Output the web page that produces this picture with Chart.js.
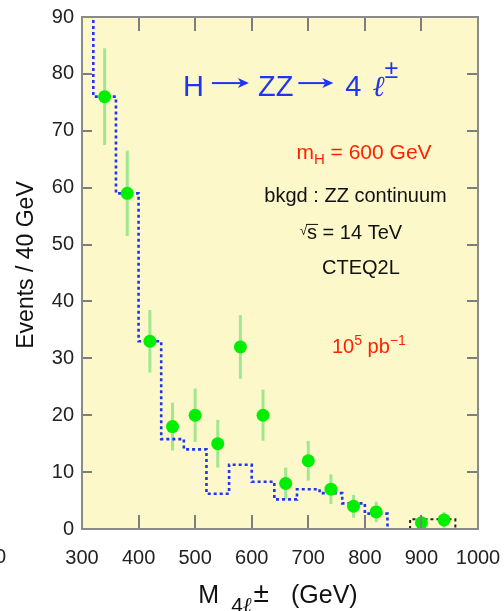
<!DOCTYPE html>
<html>
<head>
<meta charset="utf-8">
<script src="https://cdn.jsdelivr.net/npm/chart.js@4"></script>
<style>
  html, body { margin: 0; padding: 0; background: #ffffff; }
  #wrap { width: 504px; height: 611px; }
</style>
</head>
<body>
<div id="wrap"><canvas id="c" width="504" height="611"></canvas></div>
<script>
// Four-lepton invariant mass, events per 40 GeV bin (signal + background sample)
const massCenters = [340, 380, 420, 460, 500, 540, 580, 620, 660, 700, 740, 780, 820, 900, 940];
const events      = [76, 59, 33, 18, 20, 15, 32, 20, 8, 12, 7, 4, 3, 1.1, 1.6];
const eventErrors = [8.5, 7.5, 5.5, 4.2, 4.7, 4.2, 5.6, 4.5, 2.8, 3.5, 2.6, 2.0, 1.8, 1.0, 1.4];

// ZZ continuum background, step histogram (bin edges and contents)
const bkgEdges  = [320, 360, 400, 440, 480, 520, 560, 600, 640, 680, 720, 760, 800, 840];
const bkgValues = [76, 59, 33, 15.8, 14, 6.2, 11.3, 8.3, 5.2, 7.0, 6.3, 4.5, 2.7];
const bkgEntry  = 100;   // histogram enters from above the frame

// high-mass tail bin of the background
const tailEdges  = [880, 960];
const tailValues = [1.7];

const xTicks = [300, 400, 500, 600, 700, 800, 900, 1000];
const yTicks = [0, 10, 20, 30, 40, 50, 60, 70, 80, 90];

const FONT = "'Liberation Sans', Arial, Helvetica, sans-serif";
const BLUE = '#1f35f2';
const RED = '#ff2200';

// step outline from edges/contents
function stepPoints(edges, values, entry) {
  const pts = [];
  pts.push({ x: edges[0], y: entry });
  for (let i = 0; i < values.length; i++) {
    pts.push({ x: edges[i], y: values[i] });
    pts.push({ x: edges[i + 1], y: values[i] });
  }
  pts.push({ x: edges[edges.length - 1], y: 0 });
  return pts;
}

const pointData = massCenters.map((m, i) => ({ x: m, y: events[i] }));

// draws a row of text runs
function drawRuns(ctx, runs, x, y, align) {
  const widths = runs.map(r => {
    if (r.gap !== undefined) return r.gap;
    if (r.arrow !== undefined) return r.arrow;
    ctx.font = (r.italic ? 'italic ' : '') + r.size + 'px ' + (r.family || FONT);
    return ctx.measureText(r.text).width;
  });
  const total = widths.reduce((a, b) => a + b, 0);
  let cx = align === 'center' ? x - total / 2 : x;
  ctx.textAlign = 'left';
  ctx.textBaseline = 'alphabetic';
  runs.forEach((r, i) => {
    const w = widths[i];
    if (r.arrow !== undefined) {
      const ay = y - r.lift;
      ctx.strokeStyle = r.color;
      ctx.fillStyle = r.color;
      ctx.lineWidth = 2;
      ctx.beginPath();
      ctx.moveTo(cx, ay);
      ctx.lineTo(cx + w - 8, ay);
      ctx.stroke();
      ctx.beginPath();
      ctx.moveTo(cx + w, ay);
      ctx.lineTo(cx + w - 11, ay - 5);
      ctx.lineTo(cx + w - 8, ay);
      ctx.lineTo(cx + w - 11, ay + 5);
      ctx.closePath();
      ctx.fill();
    } else if (r.text !== undefined) {
      ctx.font = (r.italic ? 'italic ' : '') + r.size + 'px ' + (r.family || FONT);
      ctx.fillStyle = r.color;
      ctx.fillText(r.text, cx, y + (r.dy || 0));
      if (r.overline) {
        ctx.strokeStyle = r.color;
        ctx.lineWidth = 1;
        ctx.beginPath();
        ctx.moveTo(cx - 1, y - r.overline);
        ctx.lineTo(cx + w + 1, y - r.overline);
        ctx.stroke();
      }
    }
    cx += w;
  });
}

function noOverflow(s) {
  s.paddingLeft = 0; s.paddingRight = 0; s.paddingTop = 0; s.paddingBottom = 0;
}

const framePlugin = {
  id: 'frame',
  beforeDraw(chart) {
    const { ctx, chartArea: a } = chart;
    ctx.save();
    ctx.fillStyle = '#fcf8c9';
    ctx.fillRect(a.left, a.top, a.right - a.left, a.bottom - a.top);
    ctx.restore();
  },
  beforeDatasetsDraw(chart) {
    const { ctx } = chart;
    const xs = chart.scales.x, ys = chart.scales.y;
    // statistical error bars
    ctx.save();
    ctx.strokeStyle = '#9fe890';
    ctx.lineWidth = 3;
    massCenters.forEach((m, i) => {
      const px = xs.getPixelForValue(m);
      ctx.beginPath();
      ctx.moveTo(px, ys.getPixelForValue(Math.max(0, events[i] - eventErrors[i])));
      ctx.lineTo(px, ys.getPixelForValue(events[i] + eventErrors[i]));
      ctx.stroke();
    });
    ctx.restore();

    // annotations inside the frame
    ctx.save();
    const X = v => xs.getPixelForValue(v);
    const Y = v => ys.getPixelForValue(v);
    drawRuns(ctx, [
      { text: 'H', size: 29, color: BLUE },
      { gap: 8 },
      { arrow: 37, lift: 13, color: BLUE },
      { gap: 9 },
      { text: 'ZZ', size: 29, color: BLUE },
      { gap: 5 },
      { arrow: 35, lift: 13, color: BLUE },
      { gap: 12 },
      { text: '4', size: 29, color: BLUE },
      { gap: 11 },
      { text: 'ℓ', size: 29, color: BLUE, italic: true, family: "'DejaVu Serif', serif" },
      { text: '±', size: 25, color: BLUE, dy: -18 }
    ], X(478.5), Y(76.1), 'left');

    drawRuns(ctx, [
      { text: 'm', size: 21, color: RED },
      { text: 'H', size: 15, color: RED, dy: 5 },
      { text: ' = 600 GeV', size: 21, color: RED }
    ], X(798.5), Y(65.1), 'center');

    drawRuns(ctx, [
      { text: 'bkgd : ZZ continuum', size: 20, color: '#111' }
    ], X(783.5), Y(57.5), 'center');

    drawRuns(ctx, [
      { text: '√', size: 13, color: '#111', dy: -4 },
      { text: 's', size: 20, color: '#111', overline: 15 },
      { text: ' = 14 TeV', size: 20, color: '#111' }
    ], X(775.5), Y(50.9), 'center');

    drawRuns(ctx, [
      { text: 'CTEQ2L', size: 20, color: '#111' }
    ], X(793), Y(44.9), 'center');

    drawRuns(ctx, [
      { text: '10', size: 20, color: RED },
      { text: '5', size: 14, color: RED, dy: -8 },
      { text: ' pb', size: 20, color: RED },
      { text: '−1', size: 14, color: RED, dy: -8 }
    ], X(807), Y(31), 'center');
    ctx.restore();
  },
  afterDatasetsDraw(chart) {
    const { ctx, chartArea: a } = chart;
    const xs = chart.scales.x, ys = chart.scales.y;
    ctx.save();
    // inward tick marks on all four sides
    ctx.strokeStyle = '#7d7d7d';
    ctx.lineWidth = 2;
    ctx.beginPath();
    xTicks.forEach(v => {
      if (v === xs.min || v === xs.max) return;
      const px = Math.round(xs.getPixelForValue(v));
      ctx.moveTo(px, a.bottom); ctx.lineTo(px, a.bottom - 14);
      ctx.moveTo(px, a.top); ctx.lineTo(px, a.top + 14);
    });
    yTicks.forEach(v => {
      if (v === ys.min || v === ys.max) return;
      const py = Math.round(ys.getPixelForValue(v));
      ctx.moveTo(a.left, py); ctx.lineTo(a.left + 10, py);
      ctx.moveTo(a.right, py); ctx.lineTo(a.right - 11, py);
    });
    ctx.stroke();
    // frame
    ctx.strokeStyle = '#8a8a8a';
    ctx.lineWidth = 2;
    ctx.strokeRect(a.left, a.top, a.right - a.left, a.bottom - a.top);
    ctx.restore();
  },
  afterDraw(chart) {
    const { ctx, chartArea: a } = chart;
    ctx.save();
    // y axis title
    ctx.translate(33, (a.top + a.bottom) / 2 - 8);
    ctx.rotate(-Math.PI / 2);
    ctx.font = '23px ' + FONT;
    ctx.fillStyle = '#111';
    ctx.textAlign = 'center';
    ctx.textBaseline = 'alphabetic';
    ctx.fillText('Events / 40 GeV', 0, 0);
    ctx.restore();

    // x axis title
    ctx.save();
    drawRuns(ctx, [
      { text: 'M', size: 25, color: '#111' },
      { gap: 12 },
      { text: '4', size: 21, color: '#111', dy: 9 },
      { text: 'ℓ', size: 21, color: '#111', dy: 9, italic: true, family: "'DejaVu Serif', serif" },
      { gap: 2 },
      { text: '±', size: 28, color: '#111', dy: -1 },
      { gap: 22 },
      { text: '(GeV)', size: 25, color: '#111' }
    ], (a.left + a.right) / 2 - 2, 603, 'center');
    ctx.restore();

    // leftmost axis number, mostly outside the canvas
    ctx.save();
    ctx.font = '20px ' + FONT;
    ctx.fillStyle = '#222';
    ctx.textAlign = 'right';
    ctx.textBaseline = 'middle';
    ctx.fillText('200', 6, 557);
    ctx.restore();
  }
};

new Chart(document.getElementById('c'), {
  type: 'scatter',
  data: {
    datasets: [
      {
        label: 'data',
        data: pointData,
        pointRadius: 6.5,
        pointHoverRadius: 6.5,
        pointBackgroundColor: '#00ee00',
        pointBorderWidth: 0,
        showLine: false,
        order: 0
      },
      {
        label: 'ZZ continuum',
        type: 'line',
        data: stepPoints(bkgEdges, bkgValues, bkgEntry),
        borderColor: BLUE,
        borderWidth: 2.6,
        borderDash: [3, 3],
        pointRadius: 0,
        tension: 0,
        fill: false,
        clip: 0,
        order: 1
      },
      {
        label: 'tail',
        type: 'line',
        data: [{ x: tailEdges[0], y: 0 }].concat(stepPoints(tailEdges, tailValues, 0).slice(1)),
        borderColor: '#222222',
        borderWidth: 2,
        borderDash: [3, 3],
        pointRadius: 0,
        tension: 0,
        fill: false,
        clip: 0,
        order: 2
      }
    ]
  },
  options: {
    responsive: false,
    animation: false,
    devicePixelRatio: 1,
    layout: { padding: { left: 0, top: 17, right: 26, bottom: 0 } },
    plugins: { legend: { display: false }, tooltip: { enabled: false } },
    scales: {
      x: {
        type: 'linear',
        min: 300,
        max: 1000,
        afterBuildTicks: s => { s.ticks = xTicks.map(v => ({ value: v })); },
        afterFit: s => { s.height = 82; noOverflow(s); },
        grid: { display: false, drawTicks: false },
        border: { display: false },
        ticks: {
          font: { family: FONT, size: 20 }, color: '#222', padding: 17,
          maxRotation: 0, autoSkip: false, callback: v => String(v)
        }
      },
      y: {
        type: 'linear',
        min: 0,
        max: 90,
        afterBuildTicks: s => { s.ticks = yTicks.map(v => ({ value: v })); },
        afterFit: s => { s.width = 82; noOverflow(s); },
        grid: { display: false, drawTicks: false },
        border: { display: false },
        ticks: {
          font: { family: FONT, size: 20 }, color: '#222', padding: 8,
          autoSkip: false, callback: v => String(v)
        }
      }
    }
  },
  plugins: [framePlugin]
});
</script>
</body>
</html>
